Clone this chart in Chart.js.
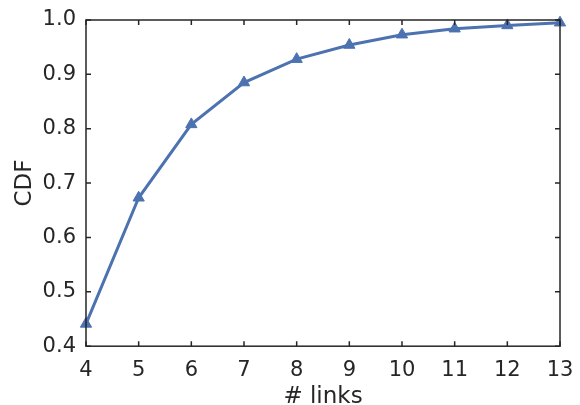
<!DOCTYPE html>
<html>
<head>
<meta charset="utf-8">
<script src="https://cdn.jsdelivr.net/npm/chart.js@4"></script>
<style>
  html, body { margin: 0; padding: 0; background: #fff; }
  #wrap { width: 580px; height: 405px; }
</style>
</head>
<body>
<div id="wrap"><canvas id="chart" width="580" height="405"></canvas></div>
<script>
// data
const links = [4, 5, 6, 7, 8, 9, 10, 11, 12, 13];
const cdf = [0.441, 0.673, 0.808, 0.885, 0.928, 0.954, 0.973, 0.984, 0.990, 0.995];
const xTicks = [4, 5, 6, 7, 8, 9, 10, 11, 12, 13];
const yTicks = [0.4, 0.5, 0.6, 0.7, 0.8, 0.9, 1.0];

const ink = '#262626';
const blue = '#4c72b0';

// frame + inward ticks on all four sides, matplotlib style
const frameTicks = {
    id: 'frameTicks',
    afterDraw(chart) {
        const { ctx, chartArea: a, scales } = chart;
        ctx.save();
        ctx.strokeStyle = ink;
        ctx.lineWidth = 1.5;
        ctx.strokeRect(a.left, a.top, a.right - a.left, a.bottom - a.top);
        const len = 5;
        ctx.beginPath();
        xTicks.forEach(v => {
            const px = scales.x.getPixelForValue(v);
            ctx.moveTo(px, a.bottom); ctx.lineTo(px, a.bottom - len);
            ctx.moveTo(px, a.top); ctx.lineTo(px, a.top + len);
        });
        yTicks.forEach(v => {
            const py = scales.y.getPixelForValue(v);
            ctx.moveTo(a.left, py); ctx.lineTo(a.left + len, py);
            ctx.moveTo(a.right, py); ctx.lineTo(a.right - len, py);
        });
        ctx.stroke();
        ctx.restore();
    }
};

new Chart(document.getElementById('chart'), {
    type: 'line',
    data: {
        datasets: [{
            data: links.map((x, i) => ({ x: x, y: cdf[i] })),
            borderColor: blue,
            backgroundColor: blue,
            borderWidth: 3,
            pointStyle: 'triangle',
            pointRadius: 6.5,
            pointHoverRadius: 6.5,
            pointBorderWidth: 1,
            tension: 0,
            clip: false
        }]
    },
    options: {
        responsive: false,
        animation: false,
        layout: { padding: { left: 11, right: 20, top: 20, bottom: 0 } },
        plugins: {
            legend: { display: false },
            tooltip: { enabled: false }
        },
        scales: {
            x: {
                type: 'linear',
                min: 4,
                max: 13,
                afterBuildTicks: s => { s.ticks = xTicks.map(v => ({ value: v })); },
                // let the layout padding decide the plot edges, not label overflow
                afterFit: s => { s.paddingLeft = 0; s.paddingRight = 0; },
                grid: { display: false, drawTicks: false },
                border: { display: false },
                ticks: {
                    color: ink,
                    padding: 12,
                    font: { family: 'DejaVu Sans', size: 21 },
                    callback: v => String(v)
                },
                title: {
                    display: true,
                    text: '# links',
                    color: ink,
                    padding: { top: -12, bottom: -6 },
                    font: { family: 'DejaVu Sans', size: 23 }
                }
            },
            y: {
                min: 0.4,
                max: 1.0,
                afterBuildTicks: s => { s.ticks = yTicks.map(v => ({ value: v })); },
                afterFit: s => { s.paddingTop = 0; s.paddingBottom = 0; },
                grid: { display: false, drawTicks: false },
                border: { display: false },
                ticks: {
                    color: ink,
                    padding: 10,
                    font: { family: 'DejaVu Sans', size: 21 },
                    callback: v => Number(v).toFixed(1)
                },
                title: {
                    display: true,
                    text: 'CDF',
                    color: ink,
                    padding: { top: 0, bottom: -6 },
                    font: { family: 'DejaVu Sans', size: 23 }
                }
            }
        }
    },
    plugins: [frameTicks]
});
</script>
</body>
</html>
